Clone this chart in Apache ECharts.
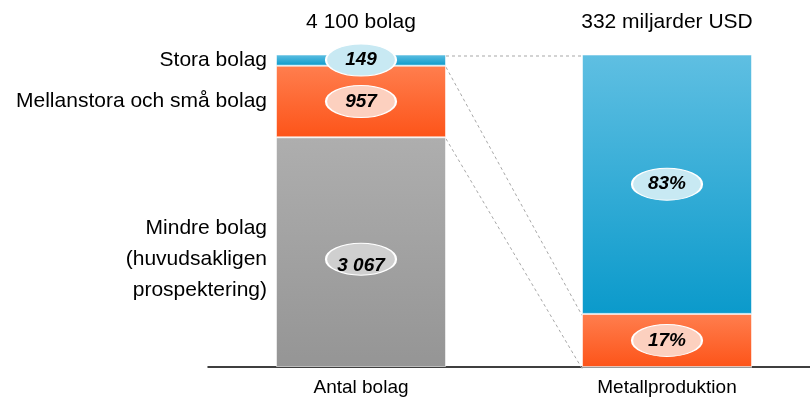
<!DOCTYPE html>
<html>
<head>
<meta charset="utf-8">
<script src="https://cdn.jsdelivr.net/npm/echarts@6/dist/echarts.min.js"></script>
<style>
html,body{margin:0;padding:0;background:#fff;}
#chart{width:810px;height:401px;}
</style>
</head>
<body>
<div id="chart"></div>
<script>
// ---- data ----
var categories = ['Antal bolag', 'Metallproduktion'];
var headers = ['4 100 bolag', '332 miljarder USD'];
var segmentNames = ['Mindre bolag\n(huvudsakligen\nprospektering)', 'Mellanstora och små bolag', 'Stora bolag'];
var antalBolag = [3067, 957, 149];          // Mindre, Mellanstora/små, Stora
var metallproduktionPct = [0, 17, 83];      // Mindre, Mellanstora/små, Stora

// ---- derived ----
var totalBolag = antalBolag.reduce(function (a, b) { return a + b; }, 0);
var leftShare = antalBolag.map(function (v) { return v / totalBolag * 100; });
var rightShare = metallproduktionPct.slice();

function fmtNum(v) { return String(v).replace(/\B(?=(\d{3})+(?!\d))/g, ' '); }

var FONT = '"Liberation Sans", Arial, Helvetica, sans-serif';
var gradients = [
  ['#aeaeae', '#959595'],
  ['#ff7e4e', '#fd5419'],
  ['#5fbfe2', '#0b9acb']
];
var ellipseColors = ['#cfcfcf', '#fcd0bf', '#c8e9f3'];

function grad(c) {
  return new echarts.graphic.LinearGradient(0, 0, 0, 1, [{ offset: 0, color: c[0] }, { offset: 1, color: c[1] }]);
}

var series = [];
// stacked bars
segmentNames.forEach(function (name, i) {
  series.push({
    type: 'bar',
    name: name,
    stack: 'total',
    barWidth: 170,
    itemStyle: { color: grad(gradients[i]), borderColor: 'rgba(255,255,255,0.55)', borderWidth: 1 },
    data: [
      {
        value: leftShare[i],
        label: {
          show: true, position: 'left', distance: 9,
          formatter: name, color: '#000', fontFamily: FONT, fontSize: 21,
          lineHeight: i === 0 ? 31 : 24, align: 'right',
          offset: i === 0 ? [0, 7] : [0, 0]
        }
      },
      { value: rightShare[i] }
    ]
  });
});

// ellipse value labels
var ellipseData = [];
var cumL = 0, cumR = 0;
for (var i = 0; i < segmentNames.length; i++) {
  ellipseData.push({
    value: [0, cumL + leftShare[i] / 2],
    itemStyle: { color: ellipseColors[i] },
    symbolOffset: i === 0 ? [0, 7] : [0, 0],
    label: { formatter: fmtNum(antalBolag[i]), offset: i === 0 ? [0, 7] : [0, 0] }
  });
  if (rightShare[i] > 0) {
    ellipseData.push({
      value: [1, cumR + rightShare[i] / 2],
      itemStyle: { color: ellipseColors[i] },
      label: { formatter: rightShare[i] + '%' }
    });
  }
  cumL += leftShare[i];
  cumR += rightShare[i];
}
series.push({
  type: 'scatter',
  symbol: 'circle',
  symbolSize: [70, 32],
  z: 5,
  itemStyle: { borderColor: '#ffffff', borderWidth: 1.5, opacity: 1 },
  label: {
    show: true, position: 'inside', color: '#000', fontFamily: FONT,
    fontSize: 19, fontWeight: 'bold', fontStyle: 'italic'
  },
  data: ellipseData
});

// dashed connector lines: [x, leftY, rightY]
var connectors = [
  [0, leftShare[0] + leftShare[1] + leftShare[2], rightShare[0] + rightShare[1] + rightShare[2]],
  [0, leftShare[0] + leftShare[1], rightShare[0] + rightShare[1]],
  [0, leftShare[0], rightShare[0]]
];
series.push({
  type: 'custom',
  z: 1,
  encode: { x: 0, y: 1 },
  data: connectors,
  renderItem: function (params, api) {
    var p0 = api.coord([0, api.value(1)]);
    var p1 = api.coord([1, api.value(2)]);
    return {
      type: 'line',
      shape: { x1: p0[0] + 85, y1: p0[1] + 1.5, x2: p1[0] - 85, y2: p1[1] + 1.5 },
      style: { stroke: '#a8a8a8', lineWidth: 1, lineDash: [3, 3] }
    };
  }
});

var chart = echarts.init(document.getElementById('chart'), null, { renderer: 'canvas' });
chart.setOption({
  animation: false,
  backgroundColor: '#ffffff',
  grid: { left: 208, width: 612, top: 54.5, height: 312.5, outerBoundsMode: 'none', containLabel: false },
  xAxis: [
    {
      type: 'category', data: categories, position: 'bottom',
      axisLine: { show: true, lineStyle: { color: '#000', width: 1.5 } },
      axisTick: { show: false },
      axisLabel: { color: '#000', fontFamily: FONT, fontSize: 19, margin: 11 }
    },
    {
      type: 'category', data: headers, position: 'top',
      axisLine: { show: false }, axisTick: { show: false },
      axisLabel: { color: '#000', fontFamily: FONT, fontSize: 21, margin: 22 }
    }
  ],
  yAxis: { type: 'value', min: 0, max: 100, show: false, splitLine: { show: false } },
  series: series
});
</script>
</body>
</html>
